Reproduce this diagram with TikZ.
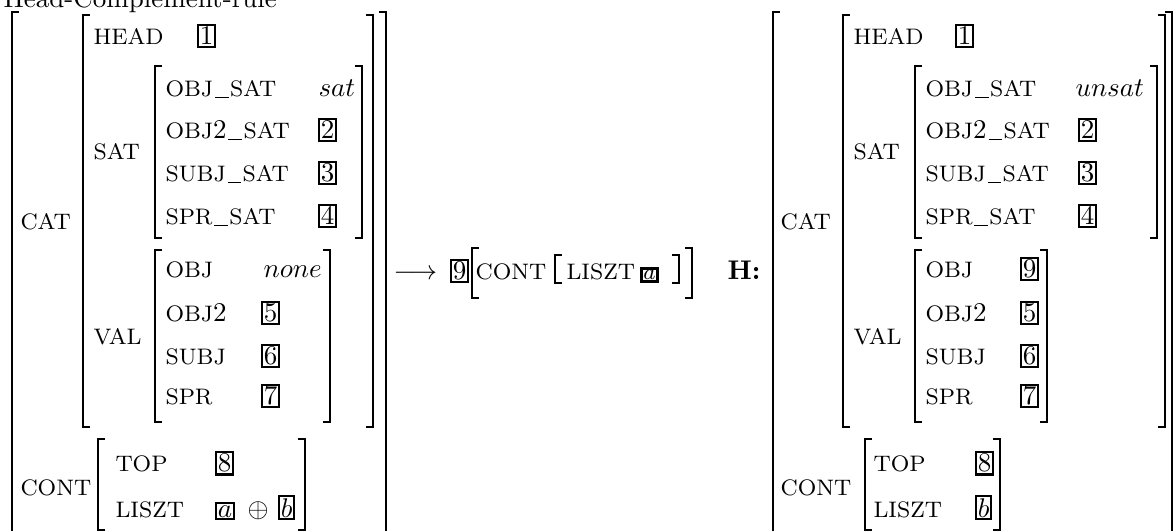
\documentclass[tikz,border=0pt]{standalone}
\usepackage{amssymb}
\newcommand{\avmLB}[3]{\draw[brk] ({#1+7},#2) -- (#1,#2) -- (#1,#3) -- ({#1+7},#3);}
\newcommand{\avmRB}[3]{\draw[brk] ({#1-7},#2) -- (#1,#2) -- (#1,#3) -- ({#1-7},#3);}
\newcommand{\us}{\kern0.08em\rule[-0.35pt]{0.62em}{0.5pt}\kern0.05em}
\newcommand{\dg}[1]{{\fontsize{10}{12}\selectfont #1}}
\begin{document}
\begin{tikzpicture}[x=0.37pt,y=-0.37pt,
  brk/.style={line width=0.8pt, line join=miter},
  lab/.style={anchor=base west, inner sep=0pt, font=\fontsize{8.3}{10}\selectfont},
  txt/.style={anchor=base west, inner sep=0pt},
  tag/.style={draw, line width=0.75pt, inner sep=0.7pt, anchor=base west, font=\normalsize},
  tagsm/.style={draw, line width=1.05pt, inner sep=0.7pt, anchor=base west, font=\footnotesize}]
\useasboundingbox (0,0) rectangle (1173,531);
\clip (0,0) rectangle (1173,531);

% title
\node[txt] (title) at (3,8) {Head-Complement-rule};

% ---------------- left AVM ----------------
\avmLB{12}{12}{560}
\avmRB{386}{12}{560}
\node[lab] (lcat) at (20,230) {CAT};
\avmLB{83}{15}{427}
\avmRB{373}{15}{427}
\node[lab] (lhead) at (93,45) {HEAD};
\node[tag] (lt1) at (197,45) {1};
\node[lab] (lsat) at (93,160) {SAT};
\avmLB{155}{66}{238}
\avmRB{362}{66}{238}
\node[lab] (los) at (165,97) {OBJ\us SAT};
\node[txt] (lsatv) at (318,97) {$sat$};
\node[lab] (lo2s) at (165,139) {OBJ\dg{2}\us SAT};
\node[tag] (lt2) at (318,139) {2};
\node[lab] (lss) at (165,182) {SUBJ\us SAT};
\node[tag] (lt3) at (318,182) {3};
\node[lab] (lsps) at (165,225) {SPR\us SAT};
\node[tag] (lt4) at (318,225) {4};
\node[lab] (lval) at (93,345) {VAL};
\avmLB{155}{250}{422}
\avmRB{330}{250}{422}
\node[lab] (lobj) at (165,278) {OBJ};
\node[txt] (lnone) at (263,278) {$none$};
\node[lab] (lobj2) at (165,322) {OBJ\dg{2}};
\node[tag] (lt5) at (261,322) {5};
\node[lab] (lsubj) at (165,365) {SUBJ};
\node[tag] (lt6) at (261,365) {6};
\node[lab] (lspr) at (165,405) {SPR};
\node[tag] (lt7) at (261,405) {7};
\node[lab] (lcont) at (20,495) {CONT};
\avmLB{98}{439}{530}
\avmRB{305}{439}{530}
\node[lab] (ltop) at (115,472) {TOP};
\node[tag] (lt8) at (215,472) {8};
\node[lab] (lliszt) at (115,517) {LISZT};
\node[tag] (lta) at (215,517) {$a$};
\node[txt] (loplus) at (247,517) {$\oplus$};
\node[tag] (ltb) at (278,517) {$b$};

% ---------------- middle ----------------
\node[txt] (arrow) at (393,280) {$\longrightarrow$};
\node[tag] (mt9) at (450,280) {9};
\avmLB{472}{248}{298}
\node[lab] (mcont) at (475,280) {CONT};
\avmLB{555}{255}{283}
\node[lab] (mliszt) at (566,280) {LISZT};
\node[tagsm] (mta) at (640,280) {$a$};
\avmRB{679}{255}{283}
\avmRB{692}{248}{298}
\node[txt] (hlab) at (727,280) {\textbf{H:}};

% ---------------- right AVM ----------------
\avmLB{773}{12}{560}
\avmRB{1172}{12}{560}
\node[lab] (rcat) at (780,230) {CAT};
\avmLB{843}{15}{427}
\avmRB{1165}{15}{427}
\node[lab] (rhead) at (853,45) {HEAD};
\node[tag] (rt1) at (955,45) {1};
\node[lab] (rsat) at (853,160) {SAT};
\avmLB{915}{66}{238}
\avmRB{1157}{66}{238}
\node[lab] (ros) at (925,97) {OBJ\us SAT};
\node[txt] (rsatv) at (1075,97) {$unsat$};
\node[lab] (ro2s) at (925,139) {OBJ\dg{2}\us SAT};
\node[tag] (rt2) at (1078,139) {2};
\node[lab] (rss) at (925,182) {SUBJ\us SAT};
\node[tag] (rt3) at (1078,182) {3};
\node[lab] (rsps) at (925,225) {SPR\us SAT};
\node[tag] (rt4) at (1078,225) {4};
\node[lab] (rval) at (853,345) {VAL};
\avmLB{915}{250}{422}
\avmRB{1047}{250}{422}
\node[lab] (robj) at (925,278) {OBJ};
\node[tag] (rt9) at (1020,278) {9};
\node[lab] (robj2) at (925,322) {OBJ\dg{2}};
\node[tag] (rt5) at (1020,322) {5};
\node[lab] (rsubj) at (925,365) {SUBJ};
\node[tag] (rt6) at (1020,365) {6};
\node[lab] (rspr) at (925,405) {SPR};
\node[tag] (rt7) at (1020,405) {7};
\node[lab] (rcont) at (780,495) {CONT};
\avmLB{865}{439}{530}
\avmRB{1000}{439}{530}
\node[lab] (rtop) at (873,472) {TOP};
\node[tag] (rt8) at (975,472) {8};
\node[lab] (rliszt) at (873,517) {LISZT};
\node[tag] (rtb) at (975,517) {$b$};
\end{tikzpicture}
\end{document}
